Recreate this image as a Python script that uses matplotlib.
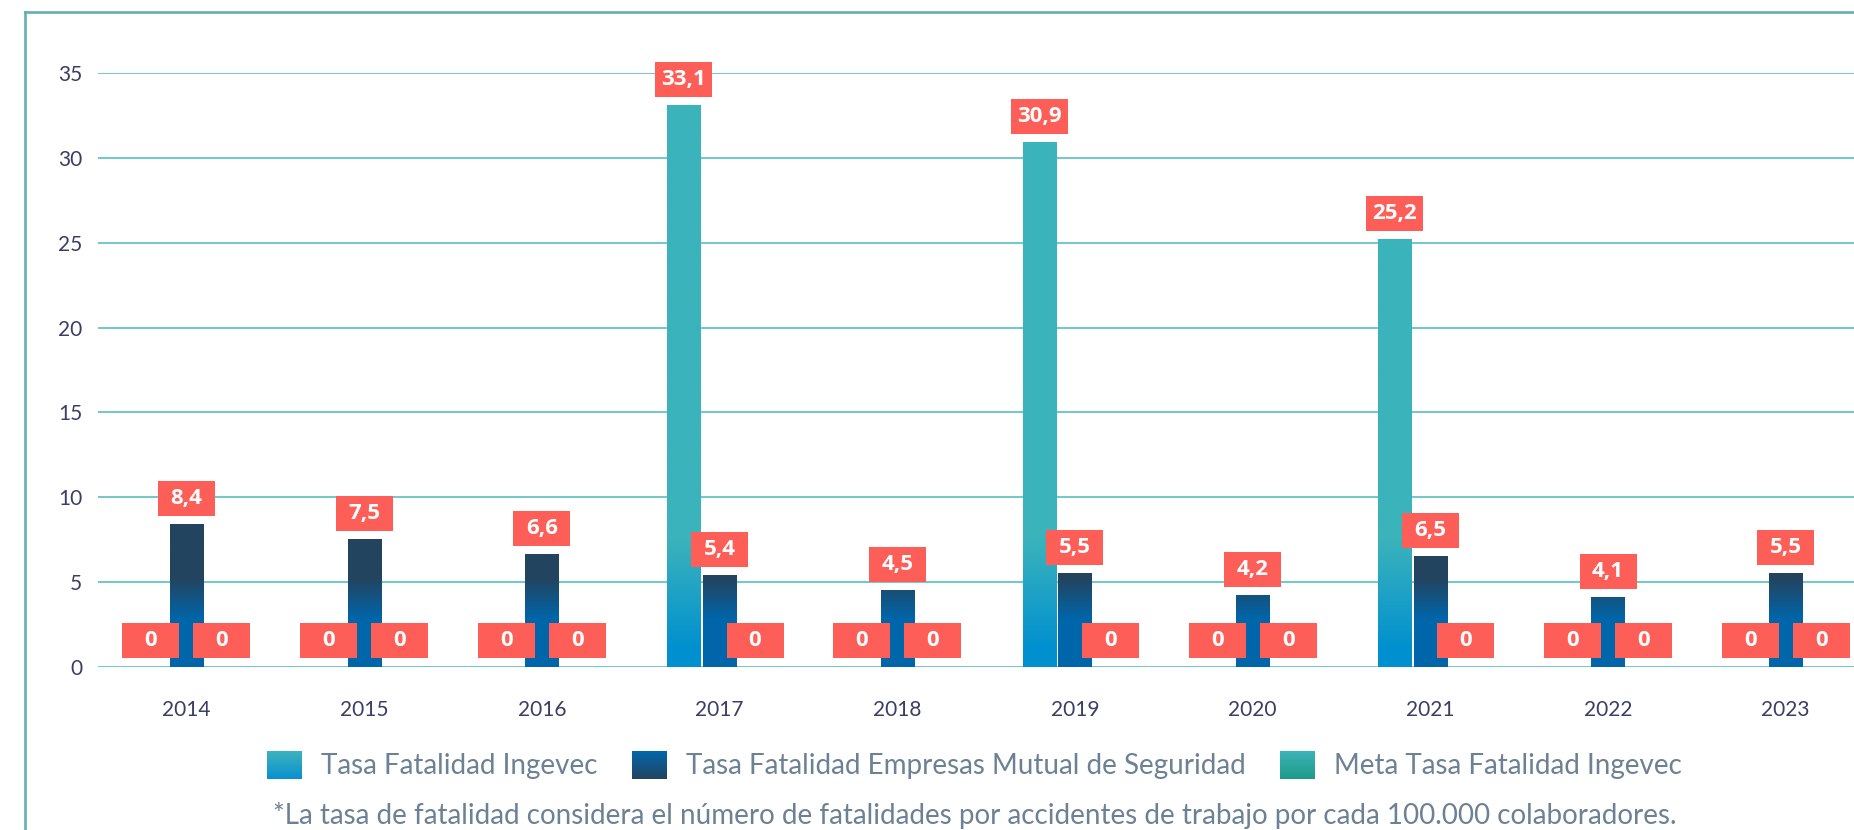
import matplotlib.pyplot as plt
import matplotlib.patches as mpatches
import matplotlib.transforms as mtransforms
from matplotlib.legend_handler import HandlerBase
from matplotlib.lines import Line2D
from matplotlib.colors import to_rgb
import numpy as np

plt.rcParams['font.family'] = ['Lato', 'DejaVu Sans']

years = ['2014', '2015', '2016', '2017', '2018', '2019', '2020', '2021', '2022', '2023']
tasa_ingevec = [0, 0, 0, 33.1, 0, 30.9, 0, 25.2, 0, 0]
tasa_mutual = [8.4, 7.5, 6.6, 5.4, 4.5, 5.5, 4.2, 6.5, 4.1, 5.5]
meta_ingevec = [0, 0, 0, 0, 0, 0, 0, 0, 0, 0]
series_labels = ['Tasa Fatalidad Ingevec',
                 'Tasa Fatalidad Empresas Mutual de Seguridad',
                 'Meta Tasa Fatalidad Ingevec']
yticks = [0, 5, 10, 15, 20, 25, 30, 35]
footnote = ('*La tasa de fatalidad considera el número de fatalidades por '
            'accidentes de trabajo por cada 100.000 colaboradores.')

box_color = '#fd5f58'
tick_color = '#3b3d66'
legend_color = '#6d8194'
grid_color = '#66c4c5'
border_color = '#62afb5'

fig = plt.figure(figsize=(18.54, 8.3), dpi=100)
ax = fig.add_axes([0.0526, 0.1964, 0.9585, 0.7157])

x = np.arange(len(years))
width = 0.186
offset = 0.2


def blend(c_top, c_bottom, y0, y1, ys):
    t = np.clip((ys - y0) / (y1 - y0), 0, 1)[:, None]
    return (1 - t) * np.array(to_rgb(c_bottom)) + t * np.array(to_rgb(c_top))


def gradient_bars(bars, c_top, c_bottom, y0, y1):
    for b in bars:
        h = b.get_height()
        b.set_visible(False)
        if h <= 0:
            continue
        ys = np.linspace(h, 0, 300)
        img = blend(c_top, c_bottom, y0, y1, ys)[:, None, :]
        ax.imshow(img, extent=(b.get_x(), b.get_x() + b.get_width(), 0, h),
                  aspect='auto', interpolation='bilinear', zorder=2)


bars_ing = ax.bar(x - offset, tasa_ingevec, width)
bars_mut = ax.bar(x, tasa_mutual, width)
bars_meta = ax.bar(x + offset, meta_ingevec, width)
gradient_bars(bars_ing, '#3bb3bb', '#0090d0', 1.0, 7.5)
gradient_bars(bars_mut, '#23445f', '#0066aa', 2.8, 5.2)

ax.set_xlim(-0.5, len(years) - 0.5)
ax.set_ylim(0, 35)
ax.set_yticks(yticks)
ax.set_xticks(x)
ax.set_xticklabels(years)
ax.tick_params(axis='y', length=0, pad=11, labelsize=15, labelcolor=tick_color)
ax.tick_params(axis='x', length=0, pad=24, labelsize=15, labelcolor=tick_color)
for s in ax.spines.values():
    s.set_visible(False)
ax.yaxis.grid(True, color=grid_color, lw=1.3)
ax.set_axisbelow(True)


def fmt(v):
    return '0' if v == 0 else ('%.1f' % v).replace('.', ',')


def value_box(xpos, v):
    trans = fig.dpi_scale_trans + mtransforms.ScaledTranslation(xpos, v, ax.transData)
    rect = mpatches.Rectangle((-0.285, 0.085), 0.57, 0.35, transform=trans,
                              fc=box_color, ec='none', zorder=5)
    fig.add_artist(rect)
    fig.text(0, 0.26, fmt(v), transform=trans, ha='center', va='center',
             color='white', fontsize=16, fontweight='bold',
             family=['Open Sans', 'DejaVu Sans'], zorder=6)


for i in range(len(years)):
    value_box(x[i] - offset, tasa_ingevec[i])
    value_box(x[i], tasa_mutual[i])
    value_box(x[i] + offset, meta_ingevec[i])


class GradientHandler(HandlerBase):
    def __init__(self, c_top, c_bottom):
        super().__init__()
        self.c_top = c_top
        self.c_bottom = c_bottom

    def create_artists(self, legend, orig_handle, xdescent, ydescent,
                       width, height, fontsize, trans):
        n = 24
        arts = []
        top = np.array(to_rgb(self.c_top))
        bot = np.array(to_rgb(self.c_bottom))
        for i in range(n):
            t = i / (n - 1)
            col = (1 - t) * bot + t * top
            r = mpatches.Rectangle((-xdescent, -ydescent + height * i / n),
                                   width, height / n * 1.05, fc=col, ec='none',
                                   lw=0, transform=trans)
            arts.append(r)
        return arts


handles = [mpatches.Patch(label=l) for l in series_labels]
grads = [('#3bb3bc', '#0a8fd0'), ('#0066ab', '#23445f'), ('#3bb3b7', '#1f9a88')]
hmap = {h: GradientHandler(*g) for h, g in zip(handles, grads)}
fig.legend(handles=handles, handler_map=hmap, loc='center',
           bbox_to_anchor=(0.5256, 0.0783), ncol=3, frameon=False,
           fontsize=20, labelcolor=legend_color, handlelength=1.26,
           handleheight=1.19, handletextpad=0.68, columnspacing=1.25)

fig.text(0.5256, 0.018, footnote, ha='center', va='center', fontsize=20,
         color=legend_color)

# frame lines around the panel
fig.add_artist(Line2D([0.01348, 0.01348], [0, 0.98554], color=border_color, lw=1.9))
fig.add_artist(Line2D([0.01348, 1], [0.98554, 0.98554], color=border_color, lw=1.9))

fig.savefig('out.png', dpi=100)
